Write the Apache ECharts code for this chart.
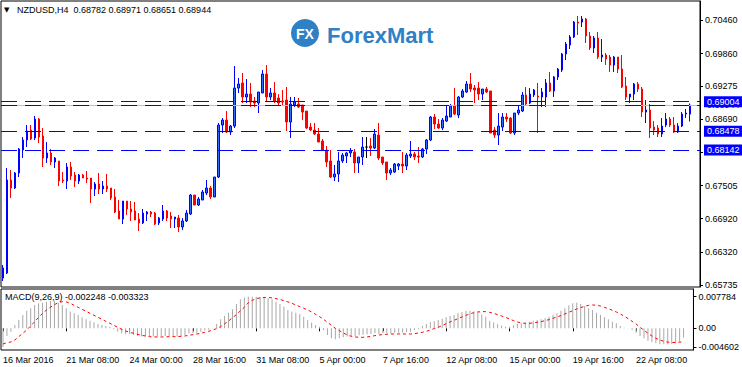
<!DOCTYPE html>
<html><head><meta charset="utf-8">
<script src="https://cdn.jsdelivr.net/npm/echarts@6/dist/echarts.min.js"></script>
<style>html,body{margin:0;padding:0;background:#fff;}#c{width:742px;height:367px;}</style>
</head><body><div id="c"></div>
<script>
const symbolName = 'NZDUSD';
const timeframe = 'H4';
const startTime = Date.UTC(2016, 2, 16, 16); // first H4 bar
const barHours = 4;
const extraSlots = 2; // empty chart shift on the right

const openP = [0.65858,0.65948,0.67607,0.67464,0.67732,0.68142,0.68320,0.68498,0.68356,0.68694,
0.68391,0.67999,0.68088,0.67928,0.67946,0.67607,0.67589,0.67839,0.67696,0.67589,
0.67696,0.67642,0.67642,0.67446,0.67535,0.67446,0.67500,0.67464,0.67304,0.67054,
0.66911,0.67232,0.67090,0.67054,0.66911,0.66840,0.67000,0.67036,0.67018,0.66840,
0.66911,0.67054,0.66965,0.66911,0.66929,0.66769,0.66876,0.67000,0.67339,0.67161,
0.67250,0.67375,0.67464,0.67304,0.67660,0.68587,0.68676,0.68462,0.68569,0.69247,
0.69337,0.69087,0.69140,0.69015,0.68980,0.69158,0.69497,0.69087,0.69158,0.69069,
0.69015,0.69033,0.68641,0.68944,0.68962,0.68944,0.68837,0.68551,0.68498,0.68427,
0.68302,0.68142,0.67946,0.67660,0.67714,0.67946,0.68035,0.68088,0.68106,0.67910,
0.68017,0.68195,0.68213,0.68177,0.68409,0.68017,0.67928,0.67732,0.67749,0.67856,
0.67892,0.67856,0.68035,0.68070,0.68035,0.68017,0.68159,0.68320,0.68730,0.68605,
0.68534,0.68658,0.68730,0.68926,0.68765,0.69087,0.69176,0.69319,0.69247,0.69247,
0.69140,0.69229,0.69194,0.68498,0.68409,0.68551,0.68730,0.68712,0.68445,0.68801,
0.68837,0.69122,0.68980,0.69122,0.69104,0.69087,0.69087,0.69337,0.69194,0.69444,
0.69568,0.69854,0.70014,0.70157,0.70424,0.70424,0.70478,0.70175,0.69961,0.70139,
0.69800,0.69836,0.69800,0.69658,0.69800,0.69586,0.69283,0.69087,0.69140,0.69319,
0.69229,0.68819,0.68855,0.68551,0.68534,0.68427,0.68587,0.68694,0.68587,0.68462,
0.68569,0.68783,0.68782];
const closeP = [0.66038,0.67607,0.67464,0.67732,0.68159,0.68320,0.68480,0.68338,0.68694,0.68373,
0.67999,0.68088,0.67928,0.67999,0.67589,0.67589,0.67839,0.67678,0.67589,0.67696,
0.67642,0.67625,0.67446,0.67535,0.67446,0.67500,0.67446,0.67286,0.67036,0.66911,
0.67232,0.67090,0.67036,0.66893,0.66840,0.67018,0.67036,0.67000,0.66822,0.66929,
0.67054,0.66929,0.66911,0.66947,0.66769,0.66876,0.67018,0.67339,0.67161,0.67268,
0.67393,0.67464,0.67304,0.67660,0.68587,0.68676,0.68462,0.68569,0.69247,0.69319,
0.69087,0.69140,0.68997,0.68980,0.69176,0.69497,0.69087,0.69158,0.69015,0.68980,
0.68997,0.68641,0.68962,0.68997,0.68908,0.68819,0.68534,0.68498,0.68427,0.68284,
0.68142,0.67928,0.67660,0.67714,0.67946,0.68052,0.68088,0.68124,0.67910,0.68017,
0.68195,0.68195,0.68177,0.68427,0.67999,0.67910,0.67732,0.67785,0.67892,0.67892,
0.67856,0.68052,0.68070,0.68017,0.68017,0.68159,0.68320,0.68730,0.68605,0.68534,
0.68676,0.68748,0.68926,0.68783,0.69087,0.69194,0.69319,0.69229,0.69212,0.69140,
0.69229,0.69176,0.68445,0.68409,0.68569,0.68730,0.68694,0.68445,0.68801,0.68855,
0.69122,0.68962,0.69140,0.69212,0.69087,0.69176,0.69337,0.69194,0.69444,0.69586,
0.69854,0.70032,0.70157,0.70424,0.70406,0.70478,0.70175,0.69961,0.70139,0.69800,
0.69836,0.69765,0.69658,0.69800,0.69586,0.69265,0.69087,0.69140,0.69319,0.69229,
0.68819,0.68855,0.68534,0.68498,0.68427,0.68569,0.68694,0.68587,0.68462,0.68569,
0.68783,0.68801,0.68944];
const lowP = [0.65806,0.65931,0.67286,0.67446,0.67660,0.67999,0.68195,0.68320,0.68320,0.68266,
0.67839,0.67910,0.67874,0.67821,0.67500,0.67553,0.67446,0.67607,0.67482,0.67535,
0.67642,0.67553,0.67197,0.67322,0.67357,0.67357,0.67393,0.67250,0.67018,0.66911,
0.66822,0.66983,0.66876,0.66893,0.66697,0.66822,0.66876,0.66947,0.66804,0.66804,
0.66876,0.66876,0.66751,0.66751,0.66679,0.66715,0.66858,0.66983,0.67161,0.67143,
0.67250,0.67339,0.67268,0.67304,0.67642,0.68445,0.68445,0.68409,0.68534,0.69158,
0.68980,0.68980,0.68908,0.68908,0.68801,0.69158,0.68997,0.69033,0.68980,0.68944,
0.68944,0.68480,0.68356,0.68908,0.68890,0.68676,0.68516,0.68480,0.68409,0.68284,
0.68124,0.67839,0.67642,0.67589,0.67571,0.67910,0.67910,0.68017,0.67732,0.67732,
0.67874,0.67999,0.68035,0.68159,0.67963,0.67874,0.67607,0.67696,0.67732,0.67785,
0.67732,0.67785,0.67999,0.67963,0.67910,0.67999,0.68070,0.68302,0.68516,0.68516,
0.68498,0.68641,0.68730,0.68765,0.68712,0.69069,0.69158,0.69176,0.68980,0.69033,
0.69033,0.69158,0.68445,0.68356,0.68231,0.68480,0.68641,0.68427,0.68409,0.68765,
0.68819,0.68926,0.68962,0.69087,0.68445,0.68908,0.68908,0.69176,0.69087,0.69390,
0.69533,0.69747,0.69943,0.70139,0.70192,0.70335,0.70050,0.69925,0.69872,0.69765,
0.69711,0.69658,0.69533,0.69533,0.69515,0.69247,0.69033,0.68980,0.69033,0.69176,
0.68730,0.68623,0.68356,0.68409,0.68373,0.68373,0.68551,0.68551,0.68445,0.68445,
0.68551,0.68712,0.68651];
const highP = [0.66091,0.67821,0.67785,0.67749,0.68177,0.68373,0.68587,0.68587,0.68748,0.68712,
0.68534,0.68284,0.68159,0.68017,0.67946,0.67749,0.67910,0.67928,0.67749,0.67714,
0.67714,0.67767,0.67642,0.67571,0.67732,0.67589,0.67714,0.67464,0.67446,0.67250,
0.67232,0.67232,0.67232,0.67215,0.67018,0.67090,0.67054,0.67054,0.67036,0.66947,
0.67161,0.67072,0.67036,0.66947,0.66983,0.66929,0.67072,0.67357,0.67339,0.67304,
0.67429,0.67607,0.67500,0.67660,0.68623,0.68712,0.68837,0.68587,0.69640,0.69426,
0.69515,0.69408,0.69337,0.69087,0.69176,0.69568,0.69658,0.69247,0.69354,0.69140,
0.69212,0.69265,0.69087,0.69087,0.69069,0.68944,0.68837,0.68623,0.68623,0.68534,
0.68338,0.68213,0.68142,0.67874,0.68106,0.68088,0.68106,0.68177,0.68159,0.68017,
0.68373,0.68373,0.68356,0.68516,0.68623,0.68017,0.67928,0.67821,0.67910,0.67910,
0.68106,0.68088,0.68302,0.68106,0.68195,0.68177,0.68338,0.68748,0.68783,0.68694,
0.68712,0.68926,0.68962,0.69247,0.69104,0.69229,0.69372,0.69515,0.69301,0.69354,
0.69229,0.69265,0.69194,0.68551,0.68801,0.68801,0.68801,0.68730,0.68801,0.68926,
0.69176,0.69265,0.69247,0.69229,0.69337,0.69247,0.69408,0.69533,0.69461,0.69604,
0.69872,0.70068,0.70192,0.70442,0.70531,0.70531,0.70496,0.70246,0.70175,0.70246,
0.70121,0.69872,0.69836,0.69818,0.69800,0.69836,0.69444,0.69140,0.69337,0.69354,
0.69265,0.69033,0.68962,0.68658,0.68587,0.68712,0.68801,0.68730,0.68730,0.68623,
0.68819,0.68873,0.68971];

const macdMain = [-0.00460,-0.00189,-0.00082,0.00082,0.00205,0.00328,0.00435,0.00493,0.00575,0.00616,
0.00632,0.00657,0.00673,0.00681,0.00632,0.00575,0.00493,0.00411,0.00369,0.00328,
0.00271,0.00222,0.00189,0.00140,0.00107,0.00082,0.00057,0.00041,-0.00025,-0.00082,
-0.00123,-0.00148,-0.00140,-0.00164,-0.00189,-0.00205,-0.00205,-0.00189,-0.00205,-0.00205,
-0.00189,-0.00189,-0.00189,-0.00189,-0.00205,-0.00189,-0.00164,-0.00123,-0.00123,-0.00107,
-0.00082,-0.00057,-0.00041,-0.00005,0.00107,0.00222,0.00304,0.00386,0.00468,0.00599,
0.00714,0.00760,0.00775,0.00778,0.00778,0.00772,0.00760,0.00740,0.00714,0.00657,
0.00599,0.00534,0.00452,0.00411,0.00386,0.00353,0.00287,0.00205,0.00140,0.00082,
0.00041,-0.00041,-0.00164,-0.00246,-0.00271,-0.00246,-0.00222,-0.00205,-0.00189,-0.00189,
-0.00172,-0.00156,-0.00148,-0.00140,-0.00123,-0.00140,-0.00123,-0.00123,-0.00123,-0.00107,
-0.00107,-0.00107,-0.00090,-0.00082,-0.00041,-0.00025,0.00057,0.00107,0.00148,0.00172,
0.00205,0.00238,0.00271,0.00304,0.00328,0.00369,0.00402,0.00435,0.00435,0.00419,
0.00386,0.00337,0.00287,0.00189,0.00140,0.00099,0.00066,0.00041,0.00041,0.00074,
0.00107,0.00123,0.00140,0.00164,0.00189,0.00205,0.00222,0.00246,0.00287,0.00328,
0.00369,0.00435,0.00493,0.00566,0.00616,0.00632,0.00599,0.00550,0.00493,0.00452,
0.00386,0.00328,0.00271,0.00222,0.00164,0.00123,0.00057,0.00016,-0.00008,-0.00041,
-0.00107,-0.00189,-0.00246,-0.00304,-0.00345,-0.00369,-0.00394,-0.00394,-0.00394,-0.00378,
-0.00369,-0.00328,-0.002248];
const macdSignal = [-0.00386,-0.00353,-0.00337,-0.00287,-0.00205,-0.00123,-0.00041,0.00057,0.00164,0.00271,
0.00369,0.00452,0.00517,0.00583,0.00632,0.00657,0.00649,0.00616,0.00566,0.00517,
0.00468,0.00419,0.00369,0.00320,0.00271,0.00222,0.00172,0.00123,0.00074,0.00025,
-0.00025,-0.00066,-0.00099,-0.00123,-0.00148,-0.00172,-0.00189,-0.00205,-0.00213,-0.00213,
-0.00213,-0.00213,-0.00205,-0.00205,-0.00205,-0.00197,-0.00189,-0.00172,-0.00156,-0.00140,
-0.00123,-0.00099,-0.00074,-0.00041,-0.00008,0.00041,0.00110,0.00180,0.00260,0.00340,
0.00430,0.00520,0.00630,0.00690,0.00730,0.00750,0.00760,0.00760,0.00750,0.00730,
0.00710,0.00680,0.00650,0.00616,0.00575,0.00534,0.00493,0.00452,0.00402,0.00345,
0.00287,0.00222,0.00148,0.00074,0.00000,-0.00057,-0.00115,-0.00164,-0.00197,-0.00213,
-0.00222,-0.00222,-0.00213,-0.00197,-0.00181,-0.00164,-0.00156,-0.00148,-0.00140,-0.00140,
-0.00140,-0.00140,-0.00140,-0.00140,-0.00131,-0.00115,-0.00099,-0.00074,-0.00041,-0.00008,
0.00025,0.00066,0.00115,0.00156,0.00197,0.00238,0.00279,0.00320,0.00353,0.00386,
0.00402,0.00411,0.00411,0.00394,0.00369,0.00337,0.00304,0.00271,0.00230,0.00189,
0.00156,0.00131,0.00123,0.00123,0.00131,0.00148,0.00164,0.00189,0.00213,0.00246,
0.00279,0.00312,0.00353,0.00394,0.00435,0.00476,0.00509,0.00542,0.00566,0.00575,
0.00566,0.00550,0.00517,0.00484,0.00443,0.00402,0.00353,0.00296,0.00238,0.00172,
0.00107,0.00025,-0.00049,-0.00123,-0.00189,-0.00246,-0.00287,-0.00320,-0.00340,-0.00350,
-0.00348,-0.00342,-0.003323];

const priceTicks = [0.70460,0.69860,0.69275,0.68690,0.68105,0.67505,0.66920,0.66320,0.65735];
const macdTicks = [0.007784, 0, -0.004602];
const levelLines = [0.69004, 0.68478, 0.68142];
const bidPrice = 0.68944;
const macdParams = '9,26,9';

// ---- categories (H4 bars, no weekend bars) ----
const months = ['Jan','Feb','Mar','Apr','May','Jun','Jul','Aug','Sep','Oct','Nov','Dec'];
const pad = n => String(n).padStart(2, '0');
const cats = [];
let t = startTime;
while (cats.length < openP.length + extraSlots) {
  const d = new Date(t);
  const wd = d.getUTCDay();
  if (wd !== 0 && wd !== 6) {
    cats.push(cats.length === 0
      ? d.getUTCDate() + ' ' + months[d.getUTCMonth()] + ' ' + d.getUTCFullYear()
      : d.getUTCDate() + ' ' + months[d.getUTCMonth()] + ' ' + pad(d.getUTCHours()) + ':' + pad(d.getUTCMinutes()));
  }
  t += barHours * 3600e3;
}

const candles = openP.map((o, i) => {
  const v = [o, closeP[i], lowP[i], highP[i]];
  return o === closeP[i] ? { value: v, itemStyle: { color: '#000', borderColor: '#000' } } : v;
});

const last = openP.length - 1;
const titleText = symbolName + ',' + timeframe + '  ' + openP[last].toFixed(5) + ' ' + highP[last].toFixed(5) + ' ' +
  lowP[last].toFixed(5) + ' ' + closeP[last].toFixed(5);
const macdText = 'MACD(' + macdParams + ') ' + macdMain[last].toFixed(6) + ' ' + macdSignal[last].toFixed(6);

const FONT = '"Liberation Sans", Arial, sans-serif';
const BLUE_LINE = { color: '#0000ff', type: [16, 8], width: 1, opacity: 1 };
const levelLabel = (txt) => ({
  show: true, position: 'end', distance: 4, formatter: txt, color: '#fff', backgroundColor: '#0000ff',
  padding: [1, 3, 1, 3], fontSize: 9, fontFamily: FONT, lineHeight: 9
});

const chart = echarts.init(document.getElementById('c'), null, { renderer: 'svg', width: 742, height: 367 });
const option = {
  animation: false,
  backgroundColor: '#fff',
  grid: [
    { left: 1, top: 1, width: 699, height: 286, show: true, borderColor: '#000', borderWidth: 1, backgroundColor: 'transparent' },
    { left: 1, top: 289, width: 699, height: 61, show: true, borderColor: '#000', borderWidth: 1, backgroundColor: 'transparent' }
  ],
  xAxis: [
    { type: 'category', gridIndex: 0, data: cats, boundaryGap: true,
      axisLine: { show: false }, axisTick: { show: false }, axisLabel: { show: false }, splitLine: { show: false } },
    { type: 'category', gridIndex: 1, data: cats, boundaryGap: true,
      axisLine: { show: false },
      axisTick: { show: true, alignWithLabel: true, interval: 15, length: 3, lineStyle: { color: '#000' } },
      axisLabel: { interval: 15, align: 'left', margin: 5, fontSize: 9, fontFamily: FONT, color: '#000', hideOverlap: false },
      splitLine: { show: false } }
  ],
  yAxis: [
    { type: 'value', gridIndex: 0, position: 'right', min: 0.65699, max: 0.70799, scale: true,
      axisLine: { show: true, lineStyle: { color: '#000' } },
      axisTick: { show: true, length: 3, customValues: priceTicks, lineStyle: { color: '#000' } },
      axisLabel: { customValues: priceTicks, formatter: v => v.toFixed(5), margin: 5, fontSize: 9, fontFamily: FONT, color: '#000' },
      splitLine: { show: false } },
    { type: 'value', gridIndex: 1, position: 'right', min: -0.005345, max: 0.00968,
      axisLine: { show: true, lineStyle: { color: '#000' } },
      axisTick: { show: true, length: 3, customValues: macdTicks, lineStyle: { color: '#000' } },
      axisLabel: { customValues: macdTicks, formatter: v => (v === 0 ? '0.00' : v.toFixed(6)), margin: 5, fontSize: 9, fontFamily: FONT, color: '#000' },
      splitLine: { show: false } }
  ],
  series: [
    { type: 'candlestick', xAxisIndex: 0, yAxisIndex: 0, data: candles, barWidth: 2,
      itemStyle: { color: '#2f6dff', color0: '#ff0000', borderColor: '#0000ff', borderColor0: '#ff0000', borderWidth: 1 },
      markLine: {
        symbol: ['none', 'none'], silent: true, animation: false, precision: 5,
        lineStyle: BLUE_LINE,
        emphasis: { disabled: true },
        data: [
          { yAxis: bidPrice, lineStyle: { color: '#c0c0c0', type: 'solid', width: 1 },
            label: { show: true, position: 'end', distance: 4, formatter: bidPrice.toFixed(5), color: '#000', backgroundColor: '#fff',
              padding: [1, 3, 1, 3], fontSize: 9, fontFamily: FONT, lineHeight: 9 } },
          { yAxis: bidPrice, lineStyle: BLUE_LINE, label: { show: false } },
          ...levelLines.map(v => ({ yAxis: v, lineStyle: BLUE_LINE, label: levelLabel(v.toFixed(5)) }))
        ]
      } },
    { type: 'bar', xAxisIndex: 1, yAxisIndex: 1, data: macdMain, barWidth: 1, itemStyle: { color: '#a8a8a8' } },
    { type: 'line', xAxisIndex: 1, yAxisIndex: 1, data: macdSignal, symbol: 'none', showSymbol: false,
      lineStyle: { color: '#ff0000', width: 1, type: [3, 3] } }
  ],
  graphic: [
    { type: 'text', left: 4, top: 6, style: { text: '▼', fill: '#000', font: '7px "DejaVu Sans"' } },
    { type: 'text', x: 17, y: 10, style: { text: titleText, fill: '#000', font: '9px ' + FONT, verticalAlign: 'middle' } },
    { type: 'text', x: 5, y: 297, style: { text: macdText, fill: '#000', font: '9px ' + FONT, verticalAlign: 'middle' } },
    { type: 'circle', shape: { cx: 305, cy: 33, r: 14 }, style: { fill: '#2f80c4' } },
    { type: 'text', x: 305, y: 34, style: { text: 'FX', fill: '#fff', font: 'bold 14px ' + FONT, align: 'center', verticalAlign: 'middle' } },
    { type: 'text', x: 327, y: 35, style: { text: 'ForexMart', fill: '#2f80c4', font: 'bold 22px ' + FONT, verticalAlign: 'middle' } }
  ]
};
chart.setOption(option);
</script>
</body></html>
